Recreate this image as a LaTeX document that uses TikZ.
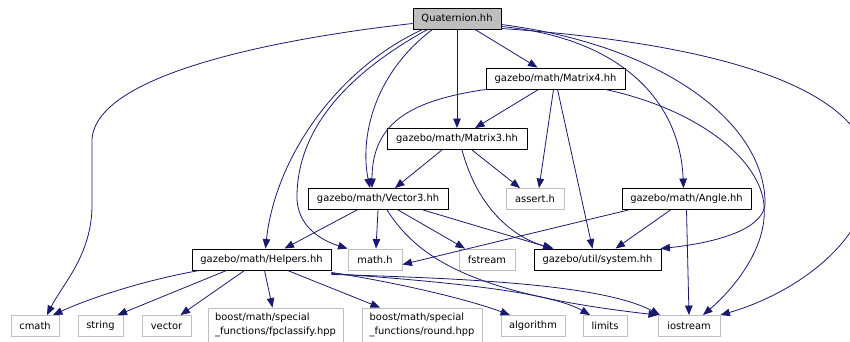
\documentclass[tikz,border=0pt]{standalone}
\usepackage{fontspec}
\setmainfont{DejaVu Sans}
\usetikzlibrary{arrows.meta}
\definecolor{edgeblue}{HTML}{191970}
\definecolor{extgray}{HTML}{BFBFBF}

\begin{document}
\begin{tikzpicture}[x=1pt,y=-1pt,
  box/.style={draw=black, line width=0.9pt, inner sep=0pt, minimum height=21pt,
              font=\fontsize{9.9}{13.5}\selectfont},
  ext/.style={box, draw=extgray},
  root/.style={box, fill=extgray},
  dep/.style={draw=edgeblue, line width=0.8pt, -{Triangle[length=9.5pt,width=7.5pt]}}
]
\useasboundingbox (0,0) rectangle (850,341);
\clip (0,0) rectangle (850,341);

% header nodes
\node[root, minimum width=88pt]  (Q)   at (457,18.5)  {Quaternion.hh};
\node[box,  minimum width=139pt] (M4)  at (555.5,78.5) {gazebo/math/Matrix4.hh};
\node[box,  minimum width=140pt] (M3)  at (457,139)   {gazebo/math/Matrix3.hh};
\node[box,  minimum width=140pt] (V3)  at (378,199)   {gazebo/math/Vector3.hh};
\node[ext,  minimum width=58pt]  (AS)  at (535,199)   {assert.h};
\node[box,  minimum width=129pt] (AN)  at (686.5,199) {gazebo/math/Angle.hh};
\node[box,  minimum width=127pt] (SYS) at (597.5,259.5) {gazebo/util/system.hh};
\node[ext,  minimum width=56pt]  (FS)  at (487,259.5) {fstream};
\node[ext,  minimum width=54pt]  (MH)  at (375,259.5) {math.h};
\node[box,  minimum width=139pt] (HP)  at (261.5,259.5) {gazebo/math/Helpers.hh};

% bottom row
\node[ext, minimum width=48pt] (CM)  at (35,326)    {cmath};
\node[ext, minimum width=45pt] (STR) at (100.5,326) {string};
\node[ext, minimum width=49pt] (VEC) at (166.5,326) {vector};
\node[ext, minimum width=135pt, minimum height=34pt, align=left] (FPC) at (275.5,325)
  {boost/math/special\\\_functions/fpclassify.hpp};
\node[ext, minimum width=120pt, minimum height=34pt, align=left] (RND) at (422,325)
  {boost/math/special\\\_functions/round.hpp};
\node[ext, minimum width=64pt] (ALG) at (533,326)   {algorithm};
\node[ext, minimum width=44pt] (LIM) at (605,326)   {limits};
\node[ext, minimum width=62pt] (IOS) at (689,326)   {iostream};

% includes of Quaternion.hh
\draw[dep] ([yshift=-5pt]Q.west) .. controls (300,36) and (95,70) .. (92,140)
  -- (92,205) .. controls (92,255) and (62,285) .. ([xshift=12pt]CM.north);
\draw[dep] ([xshift=10pt]Q.south west) .. controls (335,70) and (275,160) .. ([xshift=4pt]HP.north);
\draw[dep] ([xshift=15pt]Q.south west) .. controls (345,75) and (298,130) .. (297,195)
  .. controls (296,225) and (320,240) .. (MH.north west);
\draw[dep] ([xshift=20pt]Q.south west) .. controls (372,75) and (360,140) .. ([xshift=-8pt]V3.north);
\draw[dep] (Q.south) -- (M3.north);
\draw[dep] ([xshift=18pt]Q.south) -- ([xshift=-18pt]M4.north);
\draw[dep] ([yshift=-8pt]Q.east) .. controls (620,38) and (680,100) .. ([xshift=-3pt]AN.north);
\draw[dep] ([yshift=-6pt]Q.east) .. controls (660,45) and (762,120) .. (765,200)
  .. controls (768,232) and (705,244) .. ([xshift=-1pt]SYS.north east);
\draw[dep] ([yshift=-10pt]Q.east) .. controls (740,45) and (872,95) .. (870,175)
  .. controls (868,245) and (790,295) .. (IOS.north east);

% includes of Matrix4.hh
\draw[dep] ([xshift=-17pt]M4.south) -- ([xshift=18pt]M3.north);
\draw[dep] (M4.south west) .. controls (415,100) and (372,120) .. ([xshift=-6pt]V3.north);
\draw[dep] ([xshift=-2pt]M4.south) -- ([xshift=4pt]AS.north);
\draw[dep] ([xshift=2pt]M4.south) -- ([xshift=-5pt]SYS.north);
\draw[dep] ([xshift=50pt]M4.south) .. controls (700,110) and (760,160) .. (764,205)
  .. controls (768,250) and (730,292) .. ([xshift=14pt]IOS.north);

% includes of Matrix3.hh
\draw[dep] ([xshift=-15pt]M3.south) -- ([xshift=17pt]V3.north);
\draw[dep] ([xshift=15pt]M3.south) -- ([xshift=-15pt]AS.north);
\draw[dep] ([xshift=5pt]M3.south) .. controls (478,210) and (515,238) .. ([xshift=-44pt]SYS.north);

% includes of Vector3.hh
\draw[dep] ([xshift=-21pt]V3.south) -- ([xshift=23pt]HP.north);
\draw[dep] (V3.south) -- ([xshift=1pt]MH.north);
\draw[dep] ([xshift=20pt]V3.south) -- ([xshift=-22pt]FS.north);
\draw[dep] ([xshift=45pt]V3.south) -- ([xshift=-45pt]SYS.north);
\draw[dep] ([xshift=9pt]V3.south) .. controls (420,262) and (480,295) .. ([xshift=-31pt]IOS.north);

% includes of Angle.hh
\draw[dep] ([xshift=-58pt]AN.south) -- ([yshift=-5pt]MH.east);
\draw[dep] ([xshift=-16pt]AN.south) -- ([xshift=18pt]SYS.north);
\draw[dep] (AN.south) -- (IOS.north);

% includes of Helpers.hh
\draw[dep] ([xshift=8pt]HP.south west) .. controls (145,280) and (90,298) .. ([xshift=18pt]CM.north);
\draw[dep] ([xshift=35pt]HP.south west) -- ([xshift=17pt]STR.north);
\draw[dep] ([xshift=53pt]HP.south west) -- ([xshift=14pt]VEC.north);
\draw[dep] ([xshift=3pt]HP.south) -- ([xshift=-3pt]FPC.north);
\draw[dep] ([xshift=26pt]HP.south) -- ([xshift=-42pt]RND.north);
\draw[dep] ([yshift=-2pt]HP.south east) .. controls (400,283) and (470,300) .. ([xshift=-23pt]ALG.north);
\draw[dep] ([yshift=-3pt]HP.south east) .. controls (450,282) and (550,292) .. ([xshift=-15pt]LIM.north);
\draw[dep] ([yshift=-4pt]HP.south east) .. controls (450,278) and (600,283) .. ([xshift=-29pt]IOS.north);
\end{tikzpicture}
\end{document}
